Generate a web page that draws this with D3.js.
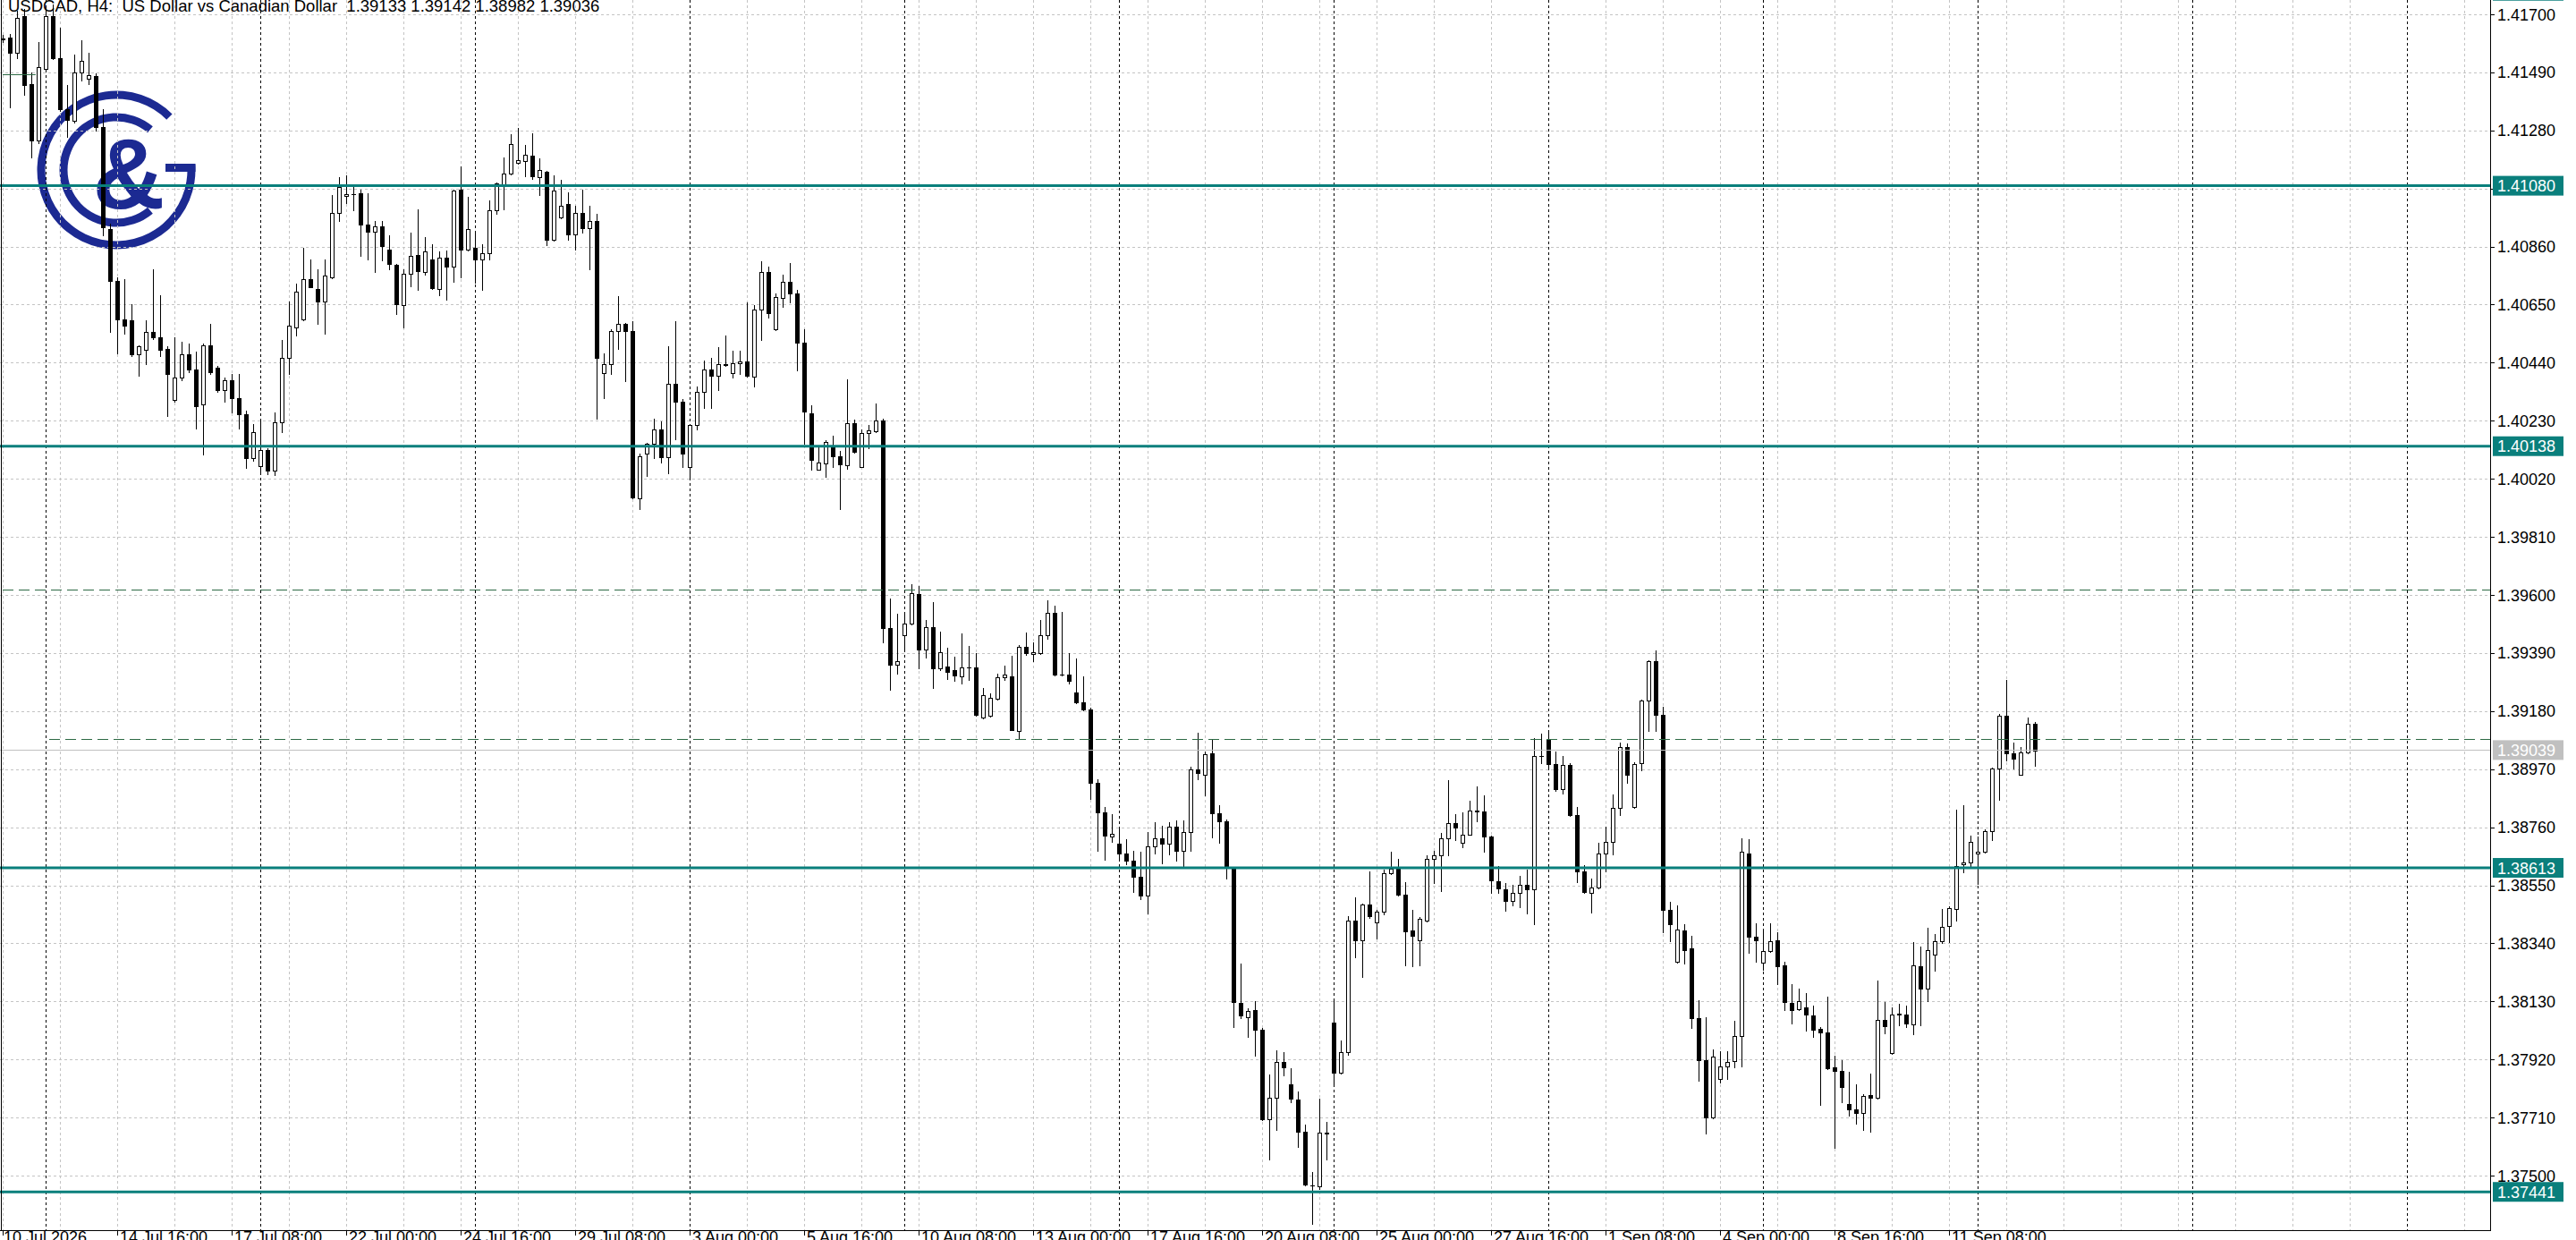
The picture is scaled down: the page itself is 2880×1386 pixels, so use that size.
<!DOCTYPE html>
<html><head><meta charset="utf-8">
<script src="https://cdn.jsdelivr.net/npm/d3@7"></script>
<style>html,body{margin:0;padding:0;background:#fff;overflow:hidden}svg{display:block}</style>
</head><body>
<svg id="c" width="2880" height="1386"></svg>
<script>
// ---------------- DATA ----------------
const symbolTitle = "USDCAD, H4:  US Dollar vs Canadian Dollar  1.39133 1.39142 1.38982 1.39036";
const openP = [
1.41612,1.41616,1.41560,1.41694,1.41449,1.41245,1.41502,1.41694,1.41542,1.41356,
1.41315,1.41490,1.41467,1.41478,1.41292,1.40924,1.40737,1.40597,1.40592,1.40469,
1.40487,1.40551,1.40533,1.40489,1.40306,1.40387,1.40469,1.40417,1.40288,1.40504,
1.40422,1.40341,1.40376,1.40312,1.40253,1.40096,1.40067,1.40125,1.40049,1.40224,
1.40457,1.40568,1.40597,1.40743,1.40708,1.40662,1.40749,1.40982,1.41042,1.41051,
1.41053,1.40940,1.40915,1.40934,1.40850,1.40795,1.40649,1.40763,1.40830,1.40768,
1.40814,1.40706,1.40820,1.40788,1.41066,1.40850,1.40857,1.40815,1.40837,1.40990,
1.41081,1.41124,1.41163,1.41168,1.41190,1.41110,1.41132,1.40886,1.40964,1.41013,
1.40904,1.40983,1.40928,1.40953,1.40403,1.40436,1.40554,1.40580,1.40556,1.39951,
1.40111,1.40146,1.40198,1.40097,1.40364,1.40299,1.40062,1.40214,1.40336,1.40417,
1.40393,1.40432,1.40404,1.40437,1.40446,1.40389,1.40633,1.40767,1.40561,1.40674,
1.40733,1.40692,1.40514,1.40258,1.40054,1.40077,1.40133,1.40102,1.40068,1.40221,
1.40064,1.40186,1.40192,1.40231,1.39479,1.39349,1.39456,1.39496,1.39604,1.39402,
1.39483,1.39335,1.39342,1.39327,1.39306,1.39339,1.39339,1.39158,1.39162,1.39226,
1.39302,1.39306,1.39108,1.39411,1.39386,1.39389,1.39454,1.39536,1.39313,1.39312,
1.39246,1.39213,1.39187,1.38920,1.38813,1.38727,1.38701,1.38666,1.38640,1.38580,
1.38514,1.38692,1.38719,1.38701,1.38762,1.38674,1.38742,1.38970,1.38950,1.39026,
1.38810,1.38780,1.38613,1.38124,1.38074,1.38100,1.38029,1.37705,1.37781,1.37912,
1.37831,1.37775,1.37660,1.37466,1.37460,1.37654,1.38054,1.37872,1.37945,1.38423,
1.38352,1.38482,1.38416,1.38454,1.38595,1.38610,1.38517,1.38385,1.38350,1.38422,
1.38647,1.38658,1.38720,1.38775,1.38703,1.38734,1.38821,1.38818,1.38726,1.38565,
1.38536,1.38492,1.38524,1.38553,1.38534,1.39019,1.39078,1.38990,1.38897,1.38984,
1.38804,1.38600,1.38522,1.38542,1.38666,1.38708,1.38831,1.39049,1.38833,1.38993,
1.39217,1.39361,1.39165,1.38460,1.38274,1.38387,1.38321,1.38068,1.37919,1.37709,
1.37849,1.37895,1.37913,1.38006,1.38666,1.38364,1.38270,1.38312,1.38352,1.38262,
1.38126,1.38101,1.38107,1.38078,1.38031,1.38019,1.37893,1.37879,1.37759,1.37741,
1.37728,1.37792,1.37782,1.38064,1.37943,1.38081,1.38084,1.38047,1.38257,1.38176,
1.38300,1.38347,1.38403,1.38463,1.38625,1.38634,1.38664,1.38670,1.38746,1.38971,
1.39164,1.39027,1.38950,1.39029,1.39133];
const highP = [
1.41624,1.41630,1.41712,1.41718,1.41490,1.41601,1.41723,1.41735,1.41653,1.41443,
1.41554,1.41607,1.41560,1.41487,1.41356,1.40942,1.40749,1.40743,1.40650,1.40504,
1.40592,1.40778,1.40685,1.40498,1.40533,1.40516,1.40510,1.40481,1.40510,1.40580,
1.40428,1.40387,1.40399,1.40399,1.40265,1.40218,1.40230,1.40131,1.40259,1.40522,
1.40662,1.40726,1.40854,1.40813,1.40778,1.40813,1.41047,1.41111,1.41116,1.41078,
1.41067,1.41053,1.40951,1.40953,1.40901,1.40798,1.40777,1.40912,1.40996,1.40895,
1.40868,1.40841,1.40846,1.41067,1.41149,1.41040,1.40915,1.40869,1.41027,1.41092,
1.41183,1.41268,1.41290,1.41228,1.41270,1.41179,1.41134,1.41118,1.41100,1.41056,
1.41007,1.41067,1.41009,1.40980,1.40475,1.40560,1.40681,1.40584,1.40589,1.40111,
1.40151,1.40236,1.40227,1.40499,1.40589,1.40310,1.40219,1.40355,1.40448,1.40459,
1.40497,1.40539,1.40483,1.40483,1.40658,1.40648,1.40808,1.40789,1.40689,1.40760,
1.40802,1.40702,1.40561,1.40287,1.40133,1.40161,1.40177,1.40121,1.40381,1.40233,
1.40199,1.40214,1.40292,1.40236,1.39586,1.39533,1.39539,1.39639,1.39633,1.39511,
1.39574,1.39467,1.39408,1.39377,1.39461,1.39414,1.39389,1.39264,1.39243,1.39314,
1.39343,1.39381,1.39418,1.39464,1.39429,1.39511,1.39581,1.39561,1.39539,1.39389,
1.39371,1.39304,1.39193,1.38932,1.38833,1.38807,1.38757,1.38716,1.38674,1.38671,
1.38742,1.38777,1.38765,1.38777,1.38783,1.38783,1.38980,1.39102,1.39035,1.39080,
1.38841,1.38788,1.38616,1.38267,1.38105,1.38130,1.38033,1.37866,1.37953,1.37948,
1.37887,1.37805,1.37684,1.37512,1.37778,1.37695,1.38139,1.37988,1.38438,1.38507,
1.38484,1.38601,1.38461,1.38606,1.38671,1.38647,1.38560,1.38461,1.38434,1.38658,
1.38674,1.38740,1.38930,1.38806,1.38813,1.38856,1.38909,1.38876,1.38728,1.38618,
1.38557,1.38553,1.38583,1.38606,1.39081,1.39097,1.39109,1.39035,1.39016,1.38993,
1.38833,1.38623,1.38573,1.38705,1.38763,1.38880,1.39066,1.39063,1.38996,1.39223,
1.39365,1.39400,1.39194,1.38489,1.38478,1.38408,1.38367,1.38134,1.38073,1.37956,
1.37951,1.37951,1.38059,1.38720,1.38717,1.38414,1.38387,1.38414,1.38379,1.38274,
1.38193,1.38176,1.38160,1.38115,1.38036,1.38148,1.37935,1.37916,1.37876,1.37829,
1.37795,1.37868,1.38204,1.38129,1.38107,1.38120,1.38115,1.38345,1.38328,1.38395,
1.38373,1.38463,1.38474,1.38822,1.38838,1.38728,1.38726,1.38751,1.38975,1.39169,
1.39293,1.39065,1.39049,1.39156,1.39142];
const lowP = [
1.41601,1.41362,1.41542,1.41408,1.41181,1.41233,1.41496,1.41537,1.41350,1.41257,
1.41309,1.41461,1.41449,1.41280,1.40901,1.40551,1.40475,1.40545,1.40465,1.40393,
1.40434,1.40527,1.40463,1.40247,1.40300,1.40376,1.40405,1.40201,1.40107,1.40400,
1.40335,1.40300,1.40259,1.40201,1.40061,1.40084,1.40043,1.40037,1.40032,1.40189,
1.40399,1.40539,1.40594,1.40712,1.40580,1.40545,1.40745,1.40953,1.41018,1.40991,
1.40825,1.40814,1.40768,1.40810,1.40777,1.40616,1.40569,1.40716,1.40703,1.40760,
1.40706,1.40684,1.40668,1.40733,1.40749,1.40847,1.40730,1.40705,1.40812,1.40980,
1.40996,1.41120,1.41159,1.41113,1.41105,1.41045,1.40864,1.40882,1.40962,1.40886,
1.40850,1.40910,1.40777,1.40236,1.40312,1.40399,1.40491,1.40372,1.39951,1.39912,
1.40029,1.40095,1.40078,1.40040,1.40162,1.40062,1.40024,1.40200,1.40277,1.40277,
1.40342,1.40427,1.40386,1.40399,1.40390,1.40354,1.40521,1.40602,1.40558,1.40643,
1.40658,1.40411,1.40146,1.40052,1.40052,1.40027,1.40064,1.39911,1.40056,1.40115,
1.40062,1.40131,1.40189,1.39429,1.39256,1.39314,1.39396,1.39493,1.39335,1.39373,
1.39264,1.39329,1.39296,1.39289,1.39281,1.39293,1.39164,1.39152,1.39160,1.39223,
1.39293,1.39110,1.39083,1.39383,1.39361,1.39387,1.39442,1.39308,1.39308,1.39279,
1.39208,1.39182,1.38863,1.38674,1.38643,1.38707,1.38643,1.38625,1.38525,1.38499,
1.38449,1.38665,1.38628,1.38662,1.38640,1.38621,1.38674,1.38935,1.38874,1.38722,
1.38704,1.38575,1.38036,1.38070,1.38003,1.37933,1.37702,1.37558,1.37664,1.37862,
1.37766,1.37604,1.37464,1.37325,1.37452,1.37558,1.37831,1.37869,1.37938,1.38291,
1.38218,1.38431,1.38358,1.38446,1.38590,1.38514,1.38261,1.38256,1.38261,1.38420,
1.38559,1.38530,1.38658,1.38713,1.38688,1.38732,1.38781,1.38670,1.38524,1.38522,
1.38457,1.38478,1.38472,1.38449,1.38410,1.38993,1.38969,1.38891,1.38883,1.38801,
1.38562,1.38524,1.38452,1.38538,1.38600,1.38662,1.38804,1.38920,1.38830,1.38967,
1.39107,1.39107,1.38379,1.38349,1.38271,1.38268,1.38035,1.37843,1.37653,1.37707,
1.37837,1.37849,1.37890,1.37895,1.38305,1.38274,1.38245,1.38309,1.38193,1.38099,
1.38051,1.38098,1.38025,1.38003,1.37756,1.37885,1.37599,1.37764,1.37716,1.37688,
1.37665,1.37660,1.37779,1.38014,1.37941,1.38042,1.38036,1.38010,1.38042,1.38132,
1.38241,1.38342,1.38345,1.38421,1.38597,1.38616,1.38556,1.38668,1.38715,1.38858,
1.39001,1.38973,1.38948,1.39027,1.38982];
const closeP = [
1.41610,1.41560,1.41688,1.41443,1.41245,1.41508,1.41694,1.41542,1.41356,1.41317,
1.41490,1.41531,1.41481,1.41292,1.40930,1.40737,1.40597,1.40574,1.40469,1.40498,
1.40551,1.40533,1.40487,1.40399,1.40387,1.40469,1.40417,1.40282,1.40504,1.40405,
1.40341,1.40376,1.40312,1.40253,1.40096,1.40189,1.40125,1.40049,1.40224,1.40457,
1.40574,1.40697,1.40743,1.40714,1.40662,1.40755,1.40982,1.41076,1.41051,1.41050,
1.40940,1.40915,1.40934,1.40863,1.40798,1.40651,1.40761,1.40827,1.40772,1.40841,
1.40709,1.40820,1.40788,1.41064,1.40850,1.40925,1.40814,1.40837,1.40990,1.41089,
1.41124,1.41230,1.41172,1.41192,1.41113,1.41137,1.40886,1.41062,1.41009,1.40904,
1.40983,1.40928,1.40953,1.40459,1.40436,1.40553,1.40580,1.40556,1.39953,1.40103,
1.40147,1.40198,1.40097,1.40364,1.40299,1.40111,1.40214,1.40336,1.40417,1.40393,
1.40435,1.40436,1.40437,1.40446,1.40393,1.40633,1.40767,1.40618,1.40679,1.40733,
1.40692,1.40514,1.40262,1.40087,1.40079,1.40152,1.40102,1.40071,1.40221,1.40118,
1.40187,1.40196,1.40231,1.39479,1.39348,1.39362,1.39496,1.39608,1.39404,1.39483,
1.39335,1.39392,1.39323,1.39308,1.39339,1.39337,1.39167,1.39237,1.39227,1.39302,
1.39311,1.39112,1.39411,1.39389,1.39392,1.39454,1.39536,1.39312,1.39311,1.39289,
1.39212,1.39187,1.38920,1.38813,1.38730,1.38735,1.38666,1.38640,1.38580,1.38514,
1.38692,1.38719,1.38701,1.38762,1.38674,1.38742,1.38970,1.38955,1.39023,1.38810,
1.38780,1.38613,1.38127,1.38079,1.38094,1.38029,1.37705,1.37781,1.37912,1.37893,
1.37778,1.37660,1.37467,1.37463,1.37654,1.37652,1.37872,1.37945,1.38423,1.38352,
1.38479,1.38438,1.38454,1.38595,1.38610,1.38517,1.38382,1.38366,1.38428,1.38647,
1.38658,1.38720,1.38775,1.38760,1.38734,1.38821,1.38816,1.38726,1.38569,1.38538,
1.38492,1.38524,1.38553,1.38534,1.39019,1.39016,1.38990,1.38897,1.38984,1.38804,
1.38600,1.38527,1.38542,1.38666,1.38708,1.38831,1.39049,1.38950,1.38988,1.39217,
1.39361,1.39167,1.38460,1.38408,1.38390,1.38315,1.38068,1.37919,1.37709,1.37930,
1.37895,1.37911,1.38006,1.38670,1.38364,1.38352,1.38312,1.38347,1.38257,1.38128,
1.38100,1.38132,1.38081,1.38028,1.38019,1.37887,1.37879,1.37820,1.37741,1.37728,
1.37789,1.37780,1.38062,1.38040,1.38081,1.38087,1.38051,1.38261,1.38176,1.38317,
1.38348,1.38401,1.38466,1.38620,1.38634,1.38706,1.38672,1.38746,1.38971,1.39164,
1.39026,1.39009,1.39029,1.39133,1.39036];

const timeLabels = ["10 Jul 2026","14 Jul 16:00","17 Jul 08:00","22 Jul 00:00","24 Jul 16:00","29 Jul 08:00",
  "3 Aug 00:00","5 Aug 16:00","10 Aug 08:00","13 Aug 00:00","17 Aug 16:00","20 Aug 08:00",
  "25 Aug 00:00","27 Aug 16:00","1 Sep 08:00","4 Sep 00:00","8 Sep 16:00","11 Sep 08:00"];
const timeLabelBars = [0,16,32,48,64,80,96,112,128,144,160,176,192,208,224,240,256,272];
const weekStartBars = [6,36,66,96,126,156,186,216,246,276,306,336];
const priceTicks = [1.41700,1.41490,1.41280,1.41070,1.40860,1.40650,1.40440,1.40230,1.40020,1.39810,
  1.39600,1.39390,1.39180,1.38970,1.38760,1.38550,1.38340,1.38130,1.37920,1.37710,1.37500];
const levelPrices = [1.41785,1.41080,1.40138,1.38613,1.37441];
const dashedLevelPrices = [1.39618,1.39080];
const dashedLevelStartBars = [0,6.5];
const shortSegPrice = [1.41484];
const shortSegBars = [0,4.6];
const bidPrice = 1.39039;

// ---------------- LAYOUT ----------------
const W = 2880, H = 1386;
const plotRight = 2784, plotBottom = 1375;
const font = "'Liberation Sans', Arial, sans-serif";
const TEAL = "#0a7f7c", NAVY = "#1c2a92", GREEN = "#2d6a45", GRID = "#c4c4c4";

const svg = d3.select("#c");
svg.append("rect").attr("width", W).attr("height", H).attr("fill", "#fff");

const x = d3.scaleLinear().domain([0, 1]).range([3, 11]);
const y = d3.scaleLinear().domain([1.375, 1.417]).range([1314, 16]);
const px = v => Math.round(x(v));
const py = v => Math.round(y(v));

svg.append("defs").append("clipPath").attr("id", "plot")
  .append("rect").attr("x", 0).attr("y", 0).attr("width", plotRight).attr("height", plotBottom);
const plot = svg.append("g").attr("clip-path", "url(#plot)");

// logo (behind chart)
const logo = plot.append("g").attr("transform", "translate(130,190)");
const arc = d3.arc();
const deg = Math.PI / 180;
logo.append("path").attr("fill", NAVY)
  .attr("d", arc({innerRadius: 79.5, outerRadius: 88.5, startAngle: 86 * deg, endAngle: 405 * deg}));
logo.append("rect").attr("fill", NAVY).attr("x", 55).attr("y", -7).attr("width", 33.5).attr("height", 9);
logo.append("path").attr("fill", NAVY)
  .attr("d", arc({innerRadius: 54.5, outerRadius: 63.5, startAngle: 140 * deg, endAngle: 400 * deg}));
logo.append("text").text("&").attr("x", 14).attr("y", 43)
  .attr("text-anchor", "middle").attr("font-family", font).attr("font-weight", "bold")
  .attr("font-size", 112).attr("fill", NAVY);

// grid
const gridBars = d3.range(0, 350, 8).filter(i => x(i) < plotRight);
plot.append("g").selectAll("line").data(gridBars).join("line")
  .attr("x1", d => px(d) + 0.5).attr("x2", d => px(d) + 0.5)
  .attr("y1", 0).attr("y2", plotBottom)
  .attr("stroke", GRID).attr("stroke-width", 1).attr("stroke-dasharray", "3,3");
plot.append("g").selectAll("line").data(priceTicks).join("line")
  .attr("x1", 0).attr("x2", plotRight)
  .attr("y1", d => py(d) + 0.5).attr("y2", d => py(d) + 0.5)
  .attr("stroke", GRID).attr("stroke-width", 1).attr("stroke-dasharray", "3,3");

// week separators
plot.append("g").selectAll("line").data(weekStartBars.filter(i => x(i) < plotRight)).join("line")
  .attr("x1", d => px(d) + 0.5).attr("x2", d => px(d) + 0.5)
  .attr("y1", 0).attr("y2", plotBottom)
  .attr("stroke", "#000").attr("stroke-width", 1).attr("stroke-dasharray", "3,3");

// candles
const bars = d3.range(openP.length).map(i => ({i, o: openP[i], h: highP[i], l: lowP[i], c: closeP[i]}));
const cg = plot.append("g").attr("shape-rendering", "crispEdges");
cg.selectAll("rect.wick").data(bars).join("rect").attr("class", "wick")
  .attr("x", d => px(d.i)).attr("width", 1)
  .attr("y", d => py(d.h)).attr("height", d => Math.max(1, py(d.l) - py(d.h) + 1))
  .attr("fill", "#000");
cg.selectAll("rect.body").data(bars).join("rect").attr("class", "body")
  .each(function(d) {
    const top = py(Math.max(d.o, d.c)), bot = py(Math.min(d.o, d.c));
    const s = d3.select(this);
    if (d.c > d.o) {
      s.attr("x", px(d.i) - 1.5).attr("width", 4)
       .attr("y", top + 0.5).attr("height", Math.max(1, bot - top))
       .attr("fill", "#fff").attr("stroke", "#000").attr("stroke-width", 1)
       .attr("shape-rendering", "auto");
    } else {
      s.attr("x", px(d.i) - 2).attr("width", 5)
       .attr("y", top).attr("height", Math.max(1, bot - top + 1))
       .attr("fill", "#000");
    }
  });

// horizontal objects
plot.append("line").attr("x1", 0).attr("x2", plotRight)
  .attr("y1", py(bidPrice) + 0.5).attr("y2", py(bidPrice) + 0.5)
  .attr("stroke", "#c0c0c0").attr("stroke-width", 1);
plot.append("g").selectAll("line").data(dashedLevelPrices).join("line")
  .attr("x1", (d, k) => x(dashedLevelStartBars[k])).attr("x2", plotRight)
  .attr("y1", d => py(d) + 0.5).attr("y2", d => py(d) + 0.5)
  .attr("stroke", GREEN).attr("stroke-width", 1).attr("stroke-dasharray", "12,6");
plot.append("line")
  .attr("x1", x(shortSegBars[0])).attr("x2", x(shortSegBars[1]))
  .attr("y1", py(shortSegPrice[0]) + 0.5).attr("y2", py(shortSegPrice[0]) + 0.5)
  .attr("stroke", GREEN).attr("stroke-width", 1);
plot.append("g").selectAll("line").data(levelPrices).join("line")
  .attr("x1", 0).attr("x2", plotRight)
  .attr("y1", d => y(d)).attr("y2", d => y(d))
  .attr("stroke", TEAL).attr("stroke-width", 3);

// frame
const frame = svg.append("g").attr("shape-rendering", "crispEdges");
frame.append("line").attr("x1", plotRight + 0.5).attr("x2", plotRight + 0.5).attr("y1", 0).attr("y2", plotBottom + 1)
  .attr("stroke", "#000");
frame.append("line").attr("x1", 0).attr("x2", plotRight + 1).attr("y1", plotBottom + 0.5).attr("y2", plotBottom + 0.5)
  .attr("stroke", "#000");
frame.append("line").attr("x1", 1.5).attr("x2", 1.5).attr("y1", 0).attr("y2", plotBottom)
  .attr("stroke", "#000");

// price axis
const pa = svg.append("g");
pa.selectAll("line").data(priceTicks).join("line")
  .attr("x1", plotRight).attr("x2", plotRight + 5)
  .attr("y1", d => py(d) + 0.5).attr("y2", d => py(d) + 0.5)
  .attr("stroke", "#000").attr("shape-rendering", "crispEdges");
pa.selectAll("text").data(priceTicks).join("text")
  .attr("x", plotRight + 8).attr("y", d => y(d) + 6.5)
  .attr("font-family", font).attr("font-size", 18).attr("fill", "#000")
  .text(d => d.toFixed(5));

// level labels
const lab = svg.append("g");
lab.selectAll("rect").data(levelPrices).join("rect")
  .attr("x", plotRight + 3).attr("width", 79).attr("y", d => y(d) - 11).attr("height", 22)
  .attr("fill", TEAL);
lab.selectAll("text").data(levelPrices).join("text")
  .attr("x", plotRight + 8).attr("y", d => y(d) + 6.5)
  .attr("font-family", font).attr("font-size", 18).attr("fill", "#fff")
  .text(d => d.toFixed(5));
lab.append("rect").attr("x", plotRight + 3).attr("width", 79).attr("y", y(bidPrice) - 11).attr("height", 22)
  .attr("fill", "#c0c0c0");
lab.append("text").attr("x", plotRight + 8).attr("y", y(bidPrice) + 6.5)
  .attr("font-family", font).attr("font-size", 18).attr("fill", "#fff").text(bidPrice.toFixed(5));

// time axis
const ta = svg.append("g");
ta.selectAll("line").data(timeLabelBars).join("line")
  .attr("x1", d => px(d) + 0.5).attr("x2", d => px(d) + 0.5)
  .attr("y1", plotBottom).attr("y2", plotBottom + 6)
  .attr("stroke", "#000").attr("shape-rendering", "crispEdges");
ta.selectAll("text").data(timeLabels).join("text")
  .attr("x", (d, k) => px(timeLabelBars[k]) + (k === 0 ? 1 : 3))
  .attr("y", plotBottom + 14)
  .attr("font-family", font).attr("font-size", 18).attr("fill", "#000")
  .text(d => d);

// header
svg.append("text").attr("x", 9).attr("y", 13)
  .attr("xml:space", "preserve").style("white-space", "pre")
  .attr("font-family", font).attr("font-size", 18.5).attr("fill", "#000")
  .text(symbolTitle);
</script>
</body></html>
